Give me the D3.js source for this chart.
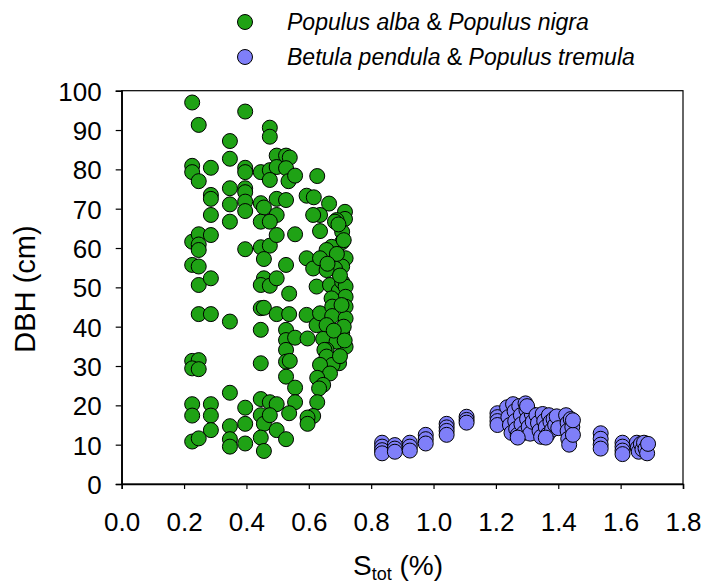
<!DOCTYPE html>
<html>
<head>
<meta charset="utf-8">
<script src="https://cdn.jsdelivr.net/npm/d3@7"></script>
<style>
  html, body { margin: 0; padding: 0; background: #fff; }
  svg { display: block; font-family: "Liberation Sans", Arial, sans-serif; }
</style>
</head>
<body>
<svg id="chart" width="705" height="586"></svg>
<script>
// ---------- DATA ----------
const seriesNames = ["Populus alba", "Populus nigra", "Betula pendula", "Populus tremula"];

// Populus alba & Populus nigra: [S_tot (%), DBH (cm)]
const greenStot = [
  0.226,0.396,0.247,0.475,0.475,0.347,0.497,0.527,0.539,0.347,0.226,0.226,0.286,0.396,0.396,0.446,0.475,0.497,0.527,0.247,
  0.475,0.535,0.556,0.627,0.286,0.286,0.347,0.396,0.396,0.347,0.396,0.396,0.446,0.497,0.527,0.456,0.497,0.286,0.593,0.616,
  0.665,0.636,0.614,0.716,0.716,0.689,0.347,0.446,0.475,
  0.226,0.247,0.247,0.247,0.286,0.396,0.446,0.475,0.456,0.497,0.556,0.636,0.684,0.707,0.707,0.673,0.657,0.593,0.614,0.636,
  0.689,0.718,0.707,0.684,0.657,0.226,0.247,0.247,0.286,0.527,0.456,0.446,0.475,0.497,0.537,0.625,0.668,0.696,0.707,0.718,
  0.718,0.673,0.247,0.286,0.347,0.446,0.456,0.497,0.537,0.446,0.593,0.625,0.636,0.675,0.675,0.718,0.718,0.657,0.707,0.527,
  0.527,0.556,0.596,0.646,0.718,0.689,0.657,0.527,
  0.226,0.247,0.226,0.247,0.446,0.527,0.539,0.527,0.556,0.556,0.650,0.657,0.697,0.676,0.636,0.668,0.627,0.646,0.633,0.627,
  0.614,0.596,0.596,0.347,0.226,0.226,0.286,0.286,0.286,0.226,0.247,0.347,0.347,0.347,0.396,0.396,0.396,0.446,0.446,0.456,
  0.446,0.456,0.475,0.497,0.475,0.497,0.527,0.537,
  0.700,0.712,0.705,0.690,0.712,0.700,0.680,0.715,0.695,0.660
];
const greenDBH = [
  97.0,94.7,91.3,90.6,88.3,87.2,83.5,83.5,83.0,82.7,80.9,79.3,80.4,80.4,79.3,79.3,79.8,80.6,80.3,77.0,
  77.3,77.0,78.4,78.3,73.5,72.5,75.2,75.2,74.2,71.1,71.8,69.4,71.4,72.5,72.2,70.3,68.4,68.4,73.3,72.9,
  71.3,68.4,68.4,69.2,67.4,67.1,66.7,66.7,66.7,
  61.6,63.5,60.9,59.5,63.3,59.7,60.2,60.6,57.2,63.3,63.5,64.3,66.7,64.1,61.5,60.3,59.5,57.4,54.8,57.4,
  57.4,57.4,55.3,54.8,54.4,55.7,55.3,50.6,52.3,55.7,52.3,50.6,50.4,52.3,48.4,50.2,50.6,49.1,51.4,50.2,
  47.6,47.2,43.2,43.2,41.3,44.7,44.8,43.2,43.2,39.2,43.0,40.4,43.4,45.1,42.7,45.1,42.1,40.4,38.3,39.2,
  36.6,37.2,37.0,36.9,34.9,36.2,34.1,34.1,
  31.3,31.5,29.4,29.2,30.7,31.1,31.3,27.3,24.5,20.8,34.1,32.4,30.7,30.3,30.3,28.1,27.0,25.2,24.3,20.8,
  17.3,16.9,15.3,23.2,20.3,17.4,20.3,17.4,13.7,10.8,11.6,14.7,11.4,9.5,19.4,15.3,10.3,21.6,17.5,15.3,
  11.8,8.4,20.8,20.3,17.5,13.7,11.4,18.0,
  53.0,40.0,45.5,58.5,62.0,32.5,39.0,36.5,66.0,56.0
];

// Betula pendula & Populus tremula: [S_tot (%), DBH (cm)]
const blueStot = [
  0.835,0.835,0.835,0.835,0.876,0.876,0.876,0.924,0.924,0.924,0.975,0.975,0.975,
  1.042,1.042,1.042,1.042,1.106,1.106,1.106,1.205,1.205,1.205,1.205,
  1.236,1.240,1.245,1.250,1.255,1.260,1.262,1.265,1.270,1.275,1.280,1.282,1.290,1.295,1.298,1.300,1.305,1.310,1.315,1.318,1.300,1.270,
  1.330,1.335,1.340,1.345,1.350,1.355,1.360,1.365,1.370,1.375,1.380,1.385,1.390,1.395,1.400,1.360,
  1.425,1.430,1.430,1.432,1.435,1.440,1.445,1.447,1.447,
  1.536,1.536,1.536,1.536,1.606,1.606,1.606,1.606,
  1.652,1.655,1.658,1.665,1.670,1.675,1.680,1.685,1.688
];
const blueDBH = [
  10.5,9.5,8.6,7.8,9.9,9.0,8.2,10.5,9.5,8.5,12.5,11.4,10.3,
  15.3,14.4,13.5,12.5,17.1,16.3,15.6,18.0,17.0,16.0,15.0,
  19.5,17.0,15.0,13.0,20.3,18.5,16.0,14.0,12.5,19.8,17.5,15.2,13.0,20.5,18.8,16.5,14.5,12.8,17.8,15.8,19.8,11.8,
  17.5,15.5,13.5,12.0,17.8,16.0,14.5,12.5,17.5,15.8,13.8,16.5,15.0,17.2,14.2,11.8,
  17.5,15.5,13.5,11.5,10.0,16.5,14.5,12.5,16.2,
  12.9,11.5,10.0,9.0,10.5,9.5,8.5,7.6,
  10.5,9.2,8.2,10.2,8.8,10.5,9.0,7.8,10.2
];

const xTicks = [0.0,0.2,0.4,0.6,0.8,1.0,1.2,1.4,1.6,1.8];
const yTicks = [0,10,20,30,40,50,60,70,80,90,100];

// ---------- CHART ----------
const svg = d3.select("#chart");
const L = 121.7, R = 683, T = 90.7, B = 484;
const x = d3.scaleLinear().domain([0, 1.8]).range([L, R]);
const y = d3.scaleLinear().domain([0, 100]).range([B, T]);

const green = "#1fa215", blue = "#7f7ff9";

// frame (top/right)
svg.append("rect").attr("x", L).attr("y", T).attr("width", R - L).attr("height", B - T)
  .attr("fill", "none").attr("stroke", "#000").attr("stroke-width", 1.2);

const xAxis = svg.append("g").attr("transform", `translate(0,${B})`)
  .call(d3.axisBottom(x).tickValues(xTicks).tickFormat(d3.format(".1f")).tickSize(5).tickPadding(24));
const yAxis = svg.append("g").attr("transform", `translate(${L},0)`)
  .call(d3.axisLeft(y).tickValues(yTicks).tickFormat(d3.format("d")).tickSize(6).tickPadding(14));
[xAxis, yAxis].forEach(g => {
  g.select(".domain").attr("stroke", "#000").attr("stroke-width", 1.5);
  g.selectAll(".tick line").attr("stroke", "#000").attr("stroke-width", 1.2);
  g.selectAll("text").attr("fill", "#000").style("font-size", "26px")
    .style("font-family", '"Liberation Sans", Arial, sans-serif');
});
xAxis.selectAll("text").attr("dy", "0.71em");
yAxis.selectAll("text").attr("dy", "0.36em");

const r = 7.5;
const greenData = greenStot.map((v, i) => [v, greenDBH[i]]);
const blueData = blueStot.map((v, i) => [v, blueDBH[i]]);

svg.append("g").selectAll("circle").data(greenData).join("circle")
  .attr("cx", d => x(d[0])).attr("cy", d => y(d[1])).attr("r", r)
  .attr("fill", green).attr("stroke", "#000").attr("stroke-width", 1);
svg.append("g").selectAll("circle").data(blueData).join("circle")
  .attr("cx", d => x(d[0])).attr("cy", d => y(d[1])).attr("r", r)
  .attr("fill", blue).attr("stroke", "#000").attr("stroke-width", 1);

// axis titles
const xt = svg.append("text").attr("x", 398).attr("y", 575).attr("text-anchor", "middle")
  .style("font-size", "28px").attr("fill", "#000");
xt.append("tspan").text("S");
xt.append("tspan").text("tot").style("font-size", "18px").attr("dy", 5);
xt.append("tspan").text(" (%)").attr("dy", -5);

svg.append("text").attr("transform", "translate(35,289) rotate(-90)").attr("text-anchor", "middle")
  .style("font-size", "29px").attr("fill", "#000").text("DBH (cm)");

// legend
const legend = [
  { a: seriesNames[0], b: seriesNames[1], c: green, y: 22 },
  { a: seriesNames[2], b: seriesNames[3], c: blue, y: 57 }
];
legend.forEach(l => {
  svg.append("circle").attr("cx", 245).attr("cy", l.y).attr("r", r)
    .attr("fill", l.c).attr("stroke", "#000").attr("stroke-width", 1);
  const t = svg.append("text").attr("x", 287).attr("y", l.y + 8).style("font-size", "23px").attr("fill", "#000");
  t.append("tspan").text(l.a).style("font-style", "italic");
  t.append("tspan").text(" & ");
  t.append("tspan").text(l.b).style("font-style", "italic");
});
</script>
</body>
</html>
